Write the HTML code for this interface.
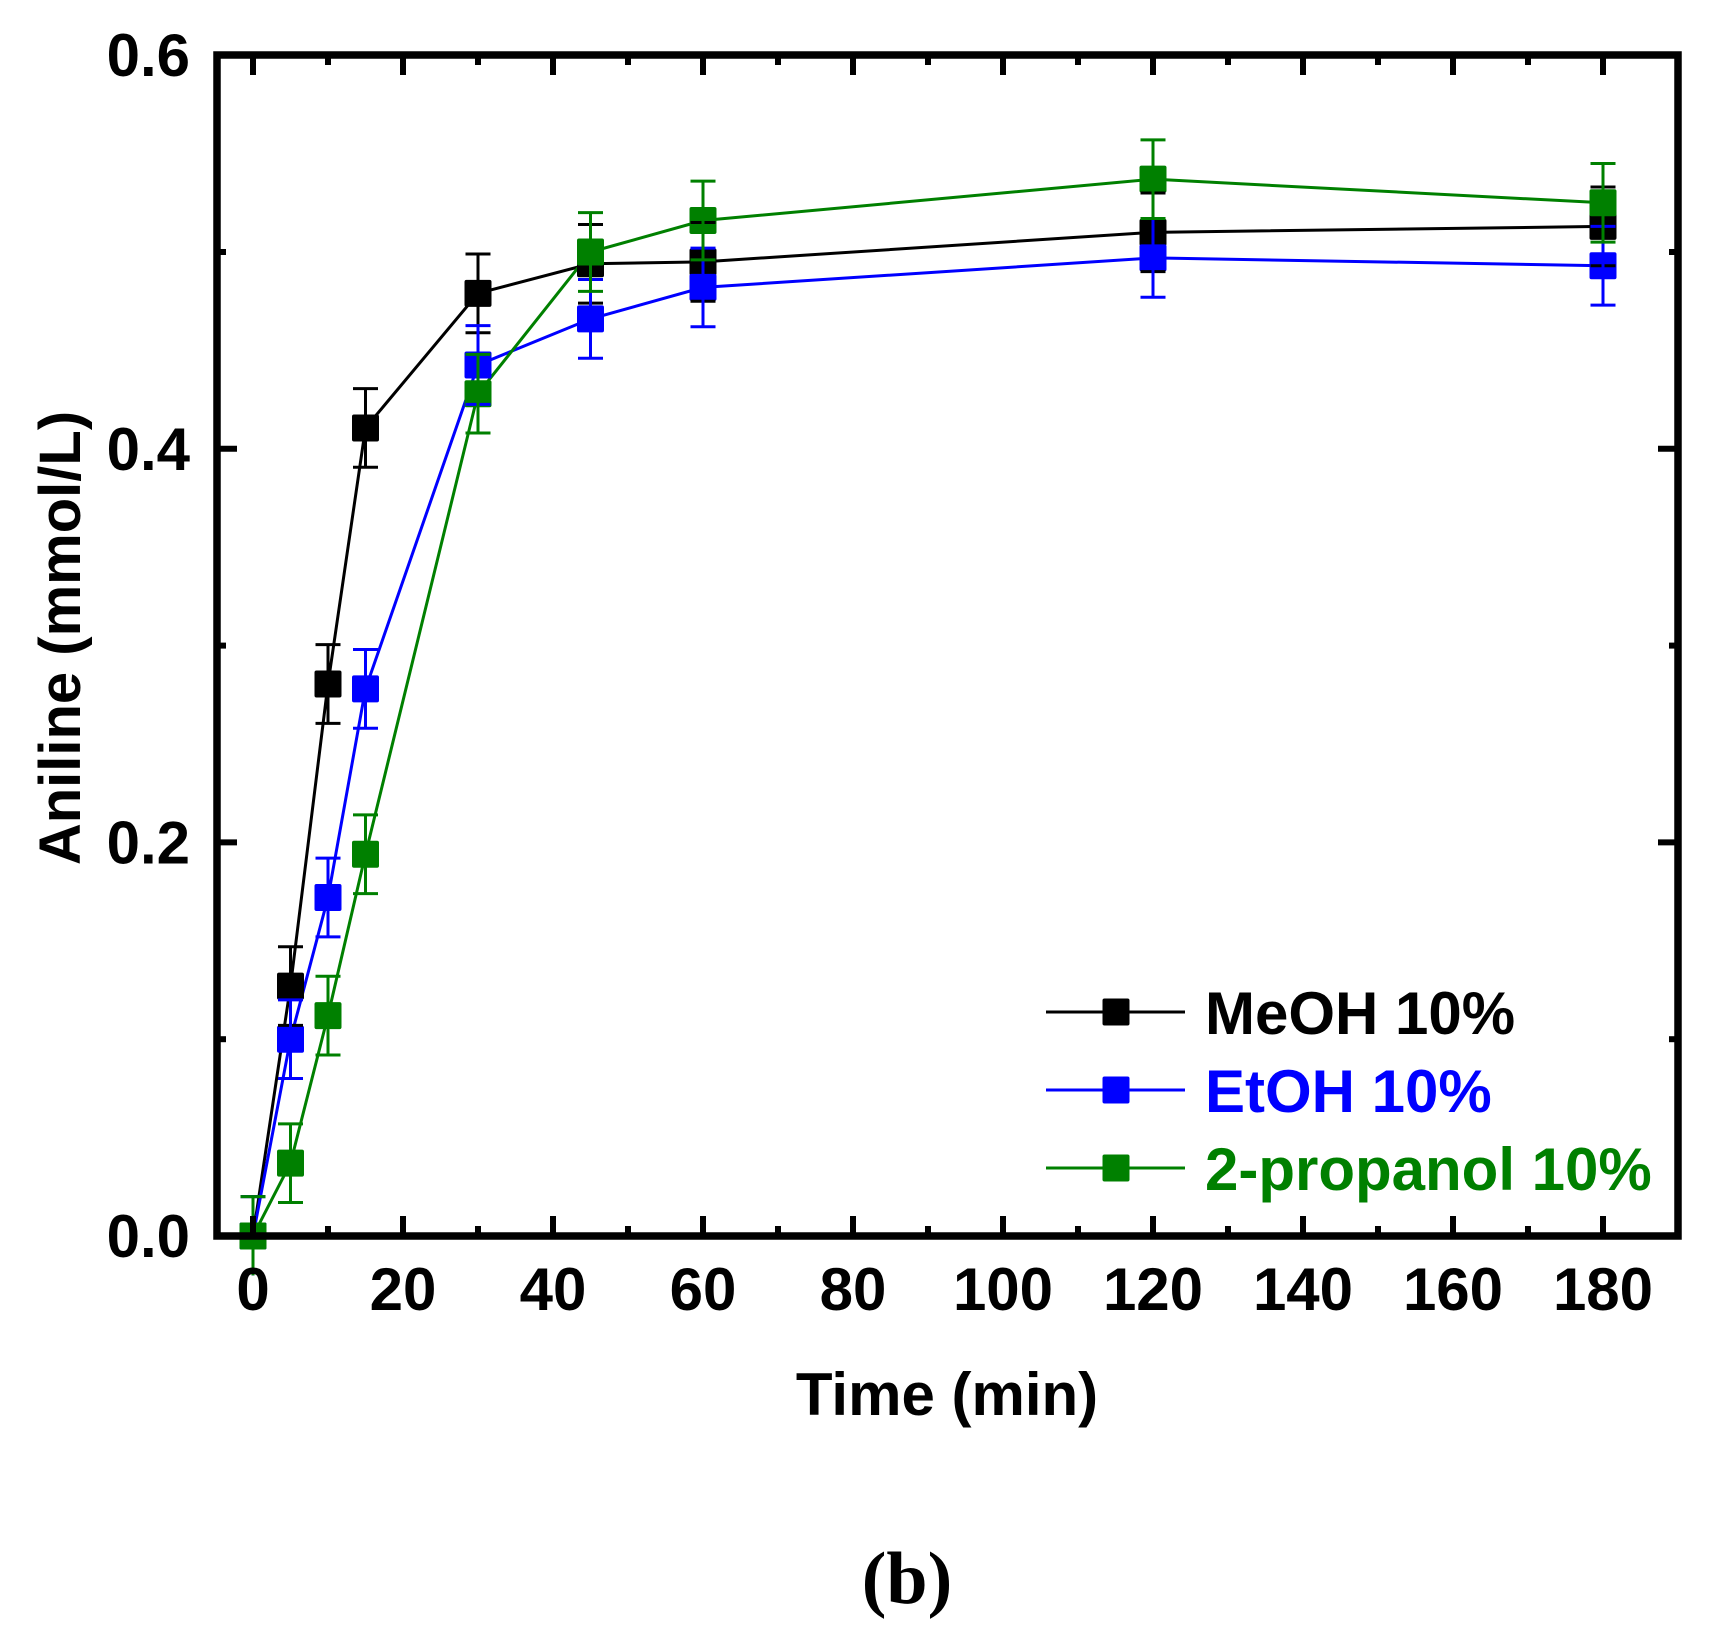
<!DOCTYPE html>
<html><head><meta charset="utf-8"><style>html,body{margin:0;padding:0;background:#fff}svg{display:block}</style></head>
<body>
<svg id="s" width="1709" height="1643" viewBox="0 0 1709 1643" xmlns="http://www.w3.org/2000/svg" font-family="Liberation Sans, Arial, sans-serif" font-weight="bold">
<g id="g"></g>
</svg>
<script>
const X=t=>253+7.5*t, Y=v=>1236-1968*v;
const ns="http://www.w3.org/2000/svg", g=document.getElementById('g');
function el(n,a,txt){const e=document.createElementNS(ns,n);for(const k in a)e.setAttribute(k,a[k]);if(txt!==undefined)e.textContent=txt;g.appendChild(e);return e;}
const T=[0,5,10,15,30,45,60,120,180];
const S=[
 {c:"#000000",v:[0,0.127,0.2805,0.4106,0.479,0.494,0.495,0.510,0.513]},
 {c:"#0000ff",v:[0,0.100,0.172,0.278,0.4426,0.466,0.482,0.497,0.493]},
 {c:"#008000",v:[0,0.037,0.112,0.194,0.428,0.500,0.516,0.537,0.525]}
];
const E=0.02;
S.forEach(s=>{
  el('polyline',{points:T.map((t,i)=>X(t)+','+Y(s.v[i])).join(' '),fill:'none',stroke:s.c,'stroke-width':3});
});
S.forEach(s=>{
  T.forEach((t,i)=>{
    const x=X(t),y=Y(s.v[i]);
    el('rect',{x:x-13.5,y:y-13.5,width:27,height:27,rx:2,fill:s.c});
  });
});
S.forEach(s=>{
  T.forEach((t,i)=>{
    const x=X(t),y=Y(s.v[i]),d=E*1968;
    el('line',{x1:x,y1:y-d,x2:x,y2:y+d,stroke:s.c,'stroke-width':3});
    el('line',{x1:x-12.5,y1:y-d,x2:x+12.5,y2:y-d,stroke:s.c,'stroke-width':3});
    if(s.v[i]>0) el('line',{x1:x-12.5,y1:y+d,x2:x+12.5,y2:y+d,stroke:s.c,'stroke-width':3});
  });
});
el('rect',{x:217,y:55,width:1461,height:1181,fill:'none',stroke:'#000','stroke-width':7.5});
for(let t=0;t<=190;t+=10){const x=X(t);if(x>1675)break;const L=(t%20==0)?20:10;
 el('line',{x1:x,y1:1236,x2:x,y2:1236-L,stroke:'#000','stroke-width':6});
 el('line',{x1:x,y1:55,x2:x,y2:55+L,stroke:'#000','stroke-width':6});
 if(t%20==0) el('text',{x:x,y:1310,'font-size':60,'text-anchor':'middle'},String(t));
}
for(let k=0;k<=6;k++){const y=Y(k/10);const L=(k%2==0)?20:9;
 el('line',{x1:217,y1:y,x2:217+L,y2:y,stroke:'#000','stroke-width':6});
 el('line',{x1:1678,y1:y,x2:1678-L,y2:y,stroke:'#000','stroke-width':6});
 if(k%2==0) el('text',{x:190,y:y+21,'font-size':60,'text-anchor':'end'},(k/10).toFixed(1));
}
el('text',{x:947,y:1415,'font-size':60,'text-anchor':'middle'},'Time (min)');
el('text',{x:0,y:0,'font-size':58,'text-anchor':'middle',transform:'translate(80,638) rotate(-90)'},'Aniline (mmol/L)');
el('text',{x:907,y:1603,'font-size':74,'text-anchor':'middle','font-family':'Liberation Serif, serif'},'(b)');
const labs=['MeOH 10%','EtOH 10%','2-propanol 10%'],ly=[1012,1090,1168];
S.forEach((s,i)=>{
 el('line',{x1:1046,y1:ly[i],x2:1185,y2:ly[i],stroke:s.c,'stroke-width':3});
 el('rect',{x:1102.5,y:ly[i]-13.5,width:27,height:27,rx:2,fill:s.c});
 el('text',{x:1205,y:ly[i]+22,'font-size':60,fill:s.c},labs[i]);
});
</script>
</body></html>
